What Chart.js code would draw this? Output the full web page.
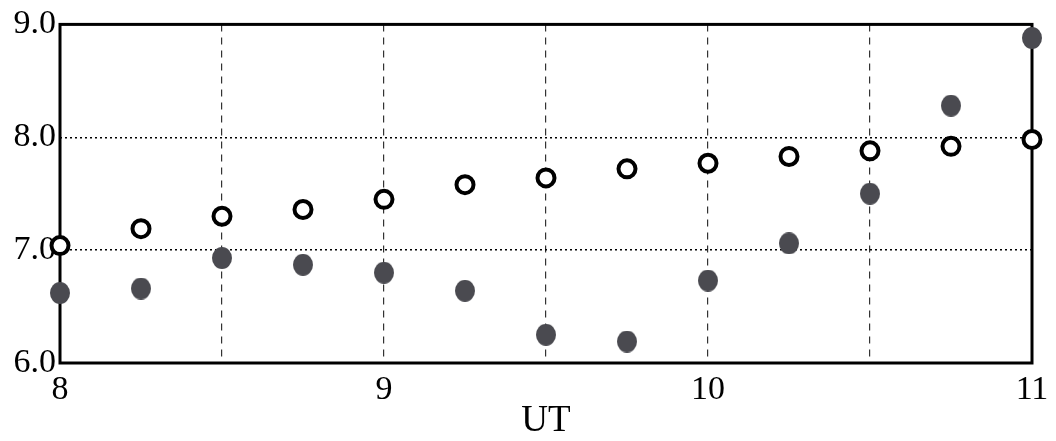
<!DOCTYPE html>
<html>
<head>
<meta charset="utf-8">
<script src="https://cdn.jsdelivr.net/npm/chart.js@4/dist/chart.umd.min.js"></script>
<style>
  html, body { margin: 0; padding: 0; background: #fff; }
  #wrap { width: 1056px; height: 441px; position: relative; }
</style>
</head>
<body>
<div id="wrap"><canvas id="c" width="1056" height="441"></canvas></div>
<script>
// ---- data ----
const hoursUT = [8.0, 8.25, 8.5, 8.75, 9.0, 9.25, 9.5, 9.75, 10.0, 10.25, 10.5, 10.75, 11.0];
const openSeries = [7.04, 7.19, 7.30, 7.36, 7.45, 7.58, 7.64, 7.72, 7.77, 7.83, 7.88, 7.92, 7.98];
const filledSeries = [6.62, 6.66, 6.93, 6.87, 6.80, 6.64, 6.25, 6.19, 6.73, 7.06, 7.50, 8.28, 8.88];
const xTickLabels = ['8', '9', '10', '11'];
const yTickLabels = ['6.0', '7.0', '8.0', '9.0'];
const xTitle = 'UT';

// ellipse marker for the filled series
function ellipseMarker(w, h, color) {
  const cv = document.createElement('canvas');
  cv.width = w; cv.height = h;
  const g = cv.getContext('2d');
  g.fillStyle = color;
  g.beginPath();
  g.ellipse(w / 2, h / 2, w / 2, h / 2, 0, 0, Math.PI * 2);
  g.fill();
  return cv;
}
const filledMarker = ellipseMarker(20, 22, '#4a4a50');

const framePlugin = {
  id: 'frame',
  beforeDatasetsDraw(chart) {
    const { ctx, chartArea: a } = chart;
    ctx.save();
    ctx.strokeStyle = '#000';
    ctx.lineWidth = 3;
    ctx.setLineDash([]);
    ctx.strokeRect(a.left, a.top, a.right - a.left, a.bottom - a.top);
    ctx.restore();
  }
};

const serif = '"Liberation Serif", serif';

new Chart(document.getElementById('c'), {
  type: 'scatter',
  data: {
    datasets: [
      {
        label: 'filled',
        data: hoursUT.map((x, i) => ({ x, y: filledSeries[i] })),
        pointStyle: filledMarker,
        pointRadius: 11,
        clip: false
      },
      {
        label: 'open',
        data: hoursUT.map((x, i) => ({ x, y: openSeries[i] })),
        pointStyle: 'circle',
        pointRadius: 8.5,
        pointBorderWidth: 4,
        pointBorderColor: '#000',
        pointBackgroundColor: '#fff',
        clip: false
      }
    ]
  },
  options: {
    responsive: false,
    animation: false,
    devicePixelRatio: 1,
    layout: { padding: { top: 23, right: 24, left: 0, bottom: 0 } },
    plugins: { legend: { display: false }, tooltip: { enabled: false } },
    scales: {
      x: {
        type: 'linear',
        min: 8, max: 11,
        afterFit(s) { s.height = 78; },
        ticks: {
          stepSize: 0.5,
          autoSkip: false,
          maxRotation: 0,
          padding: 7,
          color: '#000',
          font: { family: serif, size: 34 },
          callback: (v) => Number.isInteger(v) ? xTickLabels[v - 8] : ''
        },
        grid: {
          drawTicks: false,
          lineWidth: 1.2,
          color: (c) => (c.tick && (c.tick.value === 8 || c.tick.value === 11)) ? 'rgba(0,0,0,0)' : '#333'
        },
        border: { display: false, dash: [7, 6] },
        title: {
          display: true,
          text: xTitle,
          color: '#000',
          font: { family: serif, size: 37, lineHeight: 1.05 },
          padding: { top: 0, bottom: 0 }
        }
      },
      y: {
        type: 'linear',
        min: 6, max: 9,
        afterFit(s) { s.width = 60; },
        ticks: {
          stepSize: 1,
          padding: 4,
          color: '#000',
          font: { family: serif, size: 34 },
          callback: (v) => yTickLabels[Math.round(v - 6)]
        },
        grid: {
          drawTicks: false,
          lineWidth: 1.5,
          color: (c) => (c.tick && (c.tick.value === 7 || c.tick.value === 8)) ? '#000' : 'rgba(0,0,0,0)'
        },
        border: { display: false, dash: [2, 3] }
      }
    }
  },
  plugins: [framePlugin]
});
</script>
</body>
</html>
